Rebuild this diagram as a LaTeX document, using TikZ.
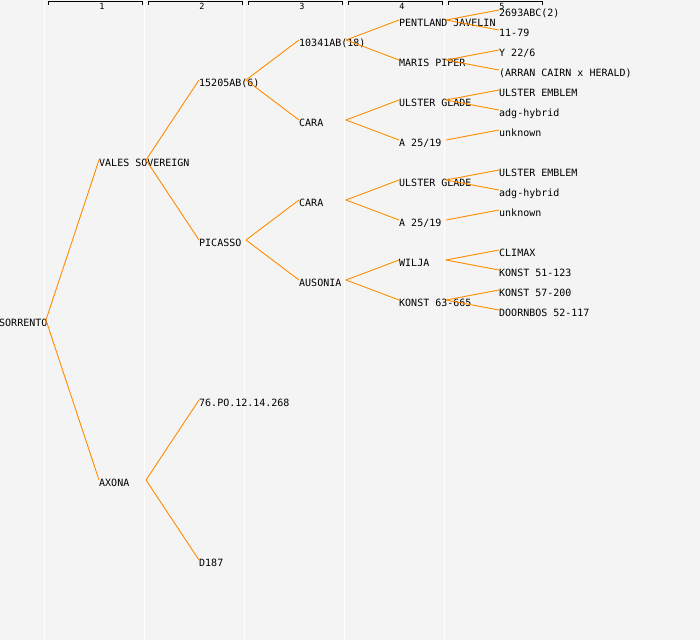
\documentclass[tikz,border=0pt]{standalone}
\usepackage{fontspec}
\newfontfamily\pedfont{DejaVu Sans Mono}
\definecolor{pedbg}{HTML}{F4F4F4}
\definecolor{pedline}{HTML}{FF8C00}
\tikzset{
	ped/.style={anchor=west, inner sep=0pt, text height=12pt, text depth=0pt, font=\pedfont\fontsize{10}{10}\selectfont},
	link/.style={pedline, line width=0.9pt},
	gen/.style={font=\pedfont\fontsize{8.5}{8.5}\selectfont, inner sep=0pt},
}

\begin{document}
\begin{tikzpicture}[x=1pt, y=-1pt]
			%%%%% START %%%%%
			\useasboundingbox (0, 0) rectangle (700, 640);
			\fill[pedbg] (0, 0) rectangle (700, 640);
			
			% column rules
			\draw[white, line width=1pt] (44.5, 0) -- (44.5, 640);
			\draw[white, line width=1pt] (144.5, 0) -- (144.5, 640);
			\draw[white, line width=1pt] (244.5, 0) -- (244.5, 640);
			\draw[white, line width=1pt] (344.5, 0) -- (344.5, 640);
			\draw[white, line width=1pt] (444.5, 0) -- (444.5, 640);
			
			% generation headers
			\draw[line width=0.9pt] (48.5, 4.5) -- (48.5, 1.5) -- (142.5, 1.5) -- (142.5, 4.5);
			\draw[line width=0.9pt] (148.5, 4.5) -- (148.5, 1.5) -- (242.5, 1.5) -- (242.5, 4.5);
			\draw[line width=0.9pt] (248.5, 4.5) -- (248.5, 1.5) -- (342.5, 1.5) -- (342.5, 4.5);
			\draw[line width=0.9pt] (348.5, 4.5) -- (348.5, 1.5) -- (442.5, 1.5) -- (442.5, 4.5);
			\draw[line width=0.9pt] (448.5, 4.5) -- (448.5, 1.5) -- (542.5, 1.5) -- (542.5, 4.5);
			\node[gen] (g1) at (102, 6.5) {1};
			\node[gen] (g2) at (202, 6.5) {2};
			\node[gen] (g3) at (302, 6.5) {3};
			\node[gen] (g4) at (402, 6.5) {4};
			\node[gen] (g5) at (502, 6.5) {5};
			
			% generation 1
			\node[ped] (sorrento) at (-1, 320) {SORRENTO};
			
			% generation 2
			\node[ped] (vales) at (99, 160) {VALES SOVEREIGN};
			\node[ped] (axona) at (99, 480) {AXONA};
			
			% generation 3
			\node[ped] (ab15205) at (199, 80) {15205AB(6)};
			\node[ped] (picasso) at (199, 240) {PICASSO};
			\node[ped] (po76) at (199, 400) {76.PO.12.14.268};
			\node[ped] (d187) at (199, 560) {D187};
			
			% generation 4
			\node[ped] (ab10341) at (299, 40) {10341AB(18)};
			\node[ped] (caraA) at (299, 120) {CARA};
			\node[ped] (caraB) at (299, 200) {CARA};
			\node[ped] (ausonia) at (299, 280) {AUSONIA};
			
			% generation 5
			\node[ped] (pentland) at (399, 20) {PENTLAND JAVELIN};
			\node[ped] (maris) at (399, 60) {MARIS PIPER};
			\node[ped] (gladeA) at (399, 100) {ULSTER GLADE};
			\node[ped] (a2519A) at (399, 140) {A 25/19};
			\node[ped] (gladeB) at (399, 180) {ULSTER GLADE};
			\node[ped] (a2519B) at (399, 220) {A 25/19};
			\node[ped] (wilja) at (399, 260) {WILJA};
			\node[ped] (konst63) at (399, 300) {KONST 63-665};
			
			% generation 6
			\node[ped] (abc2693) at (499, 10) {2693ABC(2)};
			\node[ped] (n1179) at (499, 30) {11-79};
			\node[ped] (y226) at (499, 50) {Y 22/6};
			\node[ped] (arran) at (499, 70) {(ARRAN CAIRN x HERALD)};
			\node[ped] (emblemA) at (499, 90) {ULSTER EMBLEM};
			\node[ped] (adgA) at (499, 110) {adg-hybrid};
			\node[ped] (unknownA) at (499, 130) {unknown};
			\node[ped] (emblemB) at (499, 170) {ULSTER EMBLEM};
			\node[ped] (adgB) at (499, 190) {adg-hybrid};
			\node[ped] (unknownB) at (499, 210) {unknown};
			\node[ped] (climax) at (499, 250) {CLIMAX};
			\node[ped] (konst51) at (499, 270) {KONST 51-123};
			\node[ped] (konst57) at (499, 290) {KONST 57-200};
			\node[ped] (doornbos) at (499, 310) {DOORNBOS 52-117};
			
			% joints
			\coordinate (sorrento-j) at (46, 320);
			\coordinate (vales-j) at (146, 160);
			\coordinate (axona-j) at (146, 480);
			\coordinate (ab15205-j) at (246, 80);
			\coordinate (picasso-j) at (246, 240);
			\coordinate (ab10341-j) at (346, 40);
			\coordinate (caraA-j) at (346, 120);
			\coordinate (caraB-j) at (346, 200);
			\coordinate (ausonia-j) at (346, 280);
			\coordinate (pentland-j) at (446, 20);
			\coordinate (maris-j) at (446, 60);
			\coordinate (gladeA-j) at (446, 100);
			\coordinate (a2519A-j) at (446, 140);
			\coordinate (gladeB-j) at (446, 180);
			\coordinate (a2519B-j) at (446, 220);
			\coordinate (wilja-j) at (446, 260);
			\coordinate (konst63-j) at (446, 300);
			
			% links
			\draw[link] (sorrento-j) -- (vales.west);
			\draw[link] (sorrento-j) -- (axona.west);
			\draw[link] (vales-j) -- (ab15205.west);
			\draw[link] (vales-j) -- (picasso.west);
			\draw[link] (axona-j) -- (po76.west);
			\draw[link] (axona-j) -- (d187.west);
			\draw[link] (ab15205-j) -- (ab10341.west);
			\draw[link] (ab15205-j) -- (caraA.west);
			\draw[link] (picasso-j) -- (caraB.west);
			\draw[link] (picasso-j) -- (ausonia.west);
			\draw[link] (ab10341-j) -- (pentland.west);
			\draw[link] (ab10341-j) -- (maris.west);
			\draw[link] (caraA-j) -- (gladeA.west);
			\draw[link] (caraA-j) -- (a2519A.west);
			\draw[link] (caraB-j) -- (gladeB.west);
			\draw[link] (caraB-j) -- (a2519B.west);
			\draw[link] (ausonia-j) -- (wilja.west);
			\draw[link] (ausonia-j) -- (konst63.west);
			\draw[link] (pentland-j) -- (abc2693.west);
			\draw[link] (pentland-j) -- (n1179.west);
			\draw[link] (maris-j) -- (y226.west);
			\draw[link] (maris-j) -- (arran.west);
			\draw[link] (gladeA-j) -- (emblemA.west);
			\draw[link] (gladeA-j) -- (adgA.west);
			\draw[link] (a2519A-j) -- (unknownA.west);
			\draw[link] (gladeB-j) -- (emblemB.west);
			\draw[link] (gladeB-j) -- (adgB.west);
			\draw[link] (a2519B-j) -- (unknownB.west);
			\draw[link] (wilja-j) -- (climax.west);
			\draw[link] (wilja-j) -- (konst51.west);
			\draw[link] (konst63-j) -- (konst57.west);
			\draw[link] (konst63-j) -- (doornbos.west);
			
			%%%%% END %%%%%
\end{tikzpicture}
\end{document}
